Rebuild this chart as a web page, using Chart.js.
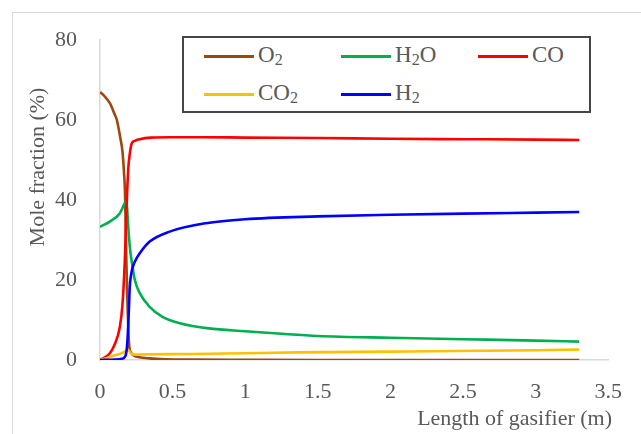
<!DOCTYPE html>
<html lang="en">
<head>
  <meta charset="UTF-8">
  <title>Mole fraction along gasifier</title>
  <script src="https://cdn.jsdelivr.net/npm/chart.js"></script>
  <style>
    body { margin: 0; background: #fff; overflow: hidden; }
    #wrap { position: relative; width: 641px; height: 434px; }
    #frame { position: absolute; left: 12px; top: 12px; width: 700px; height: 500px; border: 1px solid #d9d9d9; }
    #legend {
      position: absolute; left: 182px; top: 36px; width: 405px; height: 73px;
      border: 2px solid #454545; background: #fff;
      font-family: 'Liberation Serif', 'DejaVu Serif', serif; font-size: 23px; color: #595959;
    }
    .item { position: absolute; height: 26px; line-height: 26px; white-space: nowrap; }
    .item span.line { display: inline-block; width: 50px; height: 3px; vertical-align: middle; margin-right: 4px; }
    .item sub { font-size: 70%; vertical-align: -0.2em; line-height: 0; }
  </style>
</head>
<body>
<div id="wrap">
  <div id="frame"></div>
  <canvas id="gasChart" width="641" height="434"></canvas>
  <div id="legend">
    <div class="item" style="left:20px; top:4px"><span class="line" style="background:#9E480E"></span>O<sub>2</sub></div>
    <div class="item" style="left:157px; top:4px"><span class="line" style="background:#00B050"></span>H<sub>2</sub>O</div>
    <div class="item" style="left:294px; top:4px"><span class="line" style="background:#FF0000"></span>CO</div>
    <div class="item" style="left:20px; top:42px"><span class="line" style="background:#FFC000"></span>CO<sub>2</sub></div>
    <div class="item" style="left:157px; top:42px"><span class="line" style="background:#0000FF"></span>H<sub>2</sub></div>
  </div>
</div>

<script>
  // values: x = length (m), y = mole fraction (%)
  const o2X  = [0, 0.03, 0.068, 0.1, 0.116, 0.14, 0.155, 0.165, 0.172, 0.177, 0.182, 0.19, 0.197, 0.203, 0.215, 0.235, 0.27, 0.34, 0.45, 0.65, 1, 1.5, 2, 2.5, 3, 3.3];
  const o2Y  = [67, 66, 64.2, 61.5, 60, 55.5, 52, 47, 42, 33, 24, 13, 6, 3, 1.8, 1.1, 0.7, 0.4, 0.2, 0.1, 0.05, 0, 0, 0, 0, 0];

  const h2oX = [0, 0.068, 0.137, 0.171, 0.183, 0.19, 0.2, 0.21, 0.222, 0.24, 0.274, 0.342, 0.43, 0.55, 0.75, 1, 1.25, 1.5, 2, 2.5, 3, 3.3];
  const h2oY = [33.3, 34.6, 36.7, 39.2, 39.8, 36, 30.5, 26.8, 23.8, 20, 16.7, 13.3, 10.8, 9.2, 7.9, 7.2, 6.55, 6.0, 5.55, 5.2, 4.85, 4.6];

  const coX  = [0, 0.03, 0.068, 0.1, 0.137, 0.155, 0.171, 0.18, 0.187, 0.195, 0.205, 0.217, 0.24, 0.274, 0.35, 0.48, 0.7, 1, 1.5, 2, 2.5, 3, 3.3];
  const coY  = [0, 0.6, 1.7, 3.8, 8.3, 14, 25, 35, 42, 48, 51.5, 54, 54.8, 55.2, 55.6, 55.7, 55.7, 55.6, 55.5, 55.3, 55.2, 55.1, 55.0];

  const co2X = [0, 0.05, 0.103, 0.14, 0.171, 0.194, 0.205, 0.217, 0.25, 0.31, 0.65, 1, 1.37, 2, 2.6, 3, 3.3];
  const co2Y = [0, 0.5, 1.2, 1.6, 2.1, 2.5, 2.1, 1.5, 1.35, 1.4, 1.5, 1.7, 1.9, 2.1, 2.3, 2.45, 2.6];

  const h2X  = [0, 0.1, 0.15, 0.175, 0.185, 0.19, 0.194, 0.2, 0.205, 0.215, 0.228, 0.25, 0.274, 0.342, 0.48, 0.73, 1, 1.5, 2, 2.5, 3, 3.3];
  const h2Y  = [0, 0.1, 0.3, 1, 3, 5.5, 8.3, 13.5, 18.3, 21.5, 23.5, 25.3, 26.7, 29.6, 32.1, 34.2, 35.2, 35.9, 36.3, 36.6, 36.85, 37];

  const xTicks = [0, 0.5, 1, 1.5, 2, 2.5, 3, 3.5];
  const yTicks = [0, 20, 40, 60, 80];

  const pts = (xs, ys) => xs.map((x, i) => ({ x: x, y: ys[i] }));
  const serif = "'Liberation Serif', 'DejaVu Serif', serif";

  function series(label, xs, ys, color) {
    return {
      label: label,
      data: pts(xs, ys),
      borderColor: color,
      backgroundColor: color,
      borderWidth: 2.6,
      pointRadius: 0,
      cubicInterpolationMode: 'monotone',
      fill: false
    };
  }

  // axis titles placed like the original (y title sits above centre)
  const axisTitles = {
    id: 'axisTitles',
    afterDraw(chart) {
      const ctx = chart.ctx;
      ctx.save();
      ctx.fillStyle = '#595959';
      ctx.font = '22px ' + serif;
      ctx.textAlign = 'right';
      ctx.textBaseline = 'middle';
      ctx.fillText('Length of gasifier (m)', 612, 419);
      ctx.translate(38, 167);
      ctx.rotate(-Math.PI / 2);
      ctx.textAlign = 'center';
      ctx.fillText('Mole fraction (%)', 0, 0);
      ctx.restore();
    }
  };

  const ctx = document.getElementById('gasChart').getContext('2d');
  new Chart(ctx, {
    type: 'line',
    data: {
      datasets: [
        series('H2', h2X, h2Y, '#0000FF'),
        series('CO2', co2X, co2Y, '#FFC000'),
        series('CO', coX, coY, '#FF0000'),
        series('H2O', h2oX, h2oY, '#00B050'),
        series('O2', o2X, o2Y, '#9E480E')
      ]
    },
    options: {
      responsive: false,
      animation: false,
      layout: { padding: { left: 0, right: 27, top: 40, bottom: 0 } },
      plugins: {
        legend: { display: false },
        tooltip: { enabled: false }
      },
      scales: {
        x: {
          type: 'linear',
          min: 0,
          max: 3.5,
          afterBuildTicks: s => { s.ticks = xTicks.map(v => ({ value: v })); },
          afterFit: s => { s.height = 74; },
          grid: { display: false, drawTicks: false },
          border: { display: true, color: '#d9d9d9', width: 1.5 },
          ticks: { color: '#595959', font: { family: serif, size: 22 }, padding: 19, maxRotation: 0, callback: v => String(v) }
        },
        y: {
          min: 0,
          max: 80,
          afterBuildTicks: s => { s.ticks = yTicks.map(v => ({ value: v })); },
          afterFit: s => { s.width = 100; },
          grid: { display: false, drawTicks: false },
          border: { display: true, color: '#d9d9d9', width: 1.5 },
          ticks: { color: '#595959', font: { family: serif, size: 22 }, padding: 23 }
        }
      }
    },
    plugins: [axisTitles]
  });
</script>
</body>
</html>
